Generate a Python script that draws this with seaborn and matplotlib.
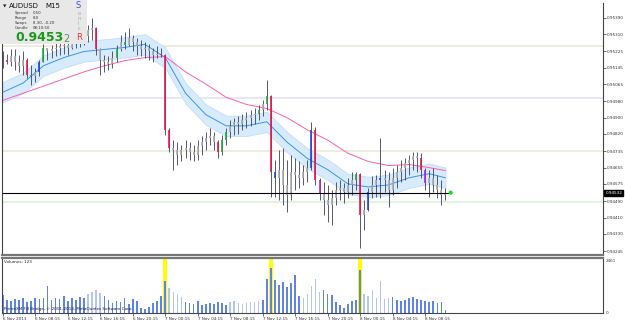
import numpy as np
import pandas as pd
import matplotlib
matplotlib.use("Agg")
import matplotlib.pyplot as plt
import seaborn as sns
from matplotlib.patches import Rectangle
import matplotlib.transforms as mtrans

sns.set_theme(style="white")
plt.rcParams['font.family'] = ['DejaVu Sans']

# AUDUSD M15 chart, one bar per half hour, prices in points (1e-5)
high = [95225, 95215, 95235, 95235, 95210, 95225, 95195, 95160, 95145, 95185,
        95260, 95240, 95255, 95270, 95280, 95290, 95280, 95300, 95320, 95310,
        95330, 95355, 95390, 95345, 95240, 95210, 95205, 95225, 95255, 95305,
        95320, 95340, 95305, 95290, 95280, 95270, 95260, 95240, 95250, 95240,
        95215, 94850, 94790, 94780, 94765, 94790, 94780, 94765, 94790, 94810,
        94830, 94850, 94830, 94790, 94815, 94850, 94890, 94900, 94910, 94920,
        94930, 94940, 94950, 94960, 94985, 95085, 95010, 94690, 94740, 94750,
        94690, 94715, 94700, 94685, 94670, 94690, 94880, 94855, 94605, 94585,
        94570, 94545, 94585, 94595, 94580, 94605, 94635, 94635, 94630, 94495,
        94555, 94615, 94620, 94800, 94645, 94635, 94655, 94670, 94690, 94700,
        94715, 94730, 94730, 94725, 94655, 94645, 94655, 94620, 94595, 94555]
low = [95145, 95165, 95155, 95135, 95125, 95110, 95095, 95060, 95075, 95105,
       95175, 95185, 95195, 95205, 95210, 95215, 95210, 95235, 95240, 95245,
       95255, 95270, 95280, 95210, 95110, 95125, 95135, 95145, 95175, 95225,
       95235, 95250, 95225, 95210, 95205, 95195, 95185, 95175, 95195, 95200,
       94815, 94730, 94645, 94670, 94685, 94700, 94690, 94685, 94690, 94715,
       94740, 94765, 94740, 94700, 94715, 94765, 94800, 94815, 94820, 94840,
       94850, 94860, 94870, 94890, 94910, 94940, 94510, 94510, 94495, 94470,
       94435, 94495, 94545, 94555, 94570, 94585, 94645, 94570, 94495, 94420,
       94390, 94375, 94470, 94495, 94480, 94505, 94520, 94545, 94260, 94350,
       94440, 94505, 94510, 94505, 94535, 94460, 94520, 94555, 94585, 94595,
       94620, 94645, 94635, 94605, 94545, 94510, 94535, 94505, 94470, 94495]
close = [95185, 95175, 95205, 95175, 95155, 95185, 95110, 95105, 95125, 95175,
         95240, 95225, 95235, 95240, 95250, 95255, 95240, 95270, 95290, 95265,
         95300, 95330, 95340, 95235, 95185, 95175, 95165, 95195, 95235, 95270,
         95255, 95290, 95270, 95250, 95235, 95240, 95225, 95210, 95215, 95210,
         94840, 94750, 94740, 94715, 94740, 94750, 94730, 94715, 94760, 94780,
         94800, 94810, 94780, 94730, 94790, 94830, 94860, 94880, 94870, 94890,
         94900, 94915, 94920, 94940, 94965, 95005, 94635, 94605, 94645, 94570,
         94520, 94635, 94620, 94605, 94635, 94655, 94840, 94595, 94530, 94495,
         94470, 94505, 94545, 94555, 94535, 94570, 94595, 94625, 94420, 94445,
         94535, 94570, 94595, 94605, 94595, 94545, 94605, 94635, 94655, 94680,
         94690, 94710, 94700, 94645, 94580, 94605, 94570, 94545, 94520, 94532]
volume = [850, 600, 550, 650, 620, 700, 500, 560, 680, 640,
          700, 1250, 600, 720, 650, 800, 560, 700, 620, 750,
          680, 900, 1000, 1050, 950, 800, 600, 450, 550, 500,
          700, 400, 650, 550, 250, 200, 280, 450, 550, 800,
          1500, 1150, 1000, 900, 750, 500, 450, 400, 550, 350,
          420, 480, 400, 520, 450, 380, 500, 560, 480, 420,
          460, 520, 500, 550, 600, 1600, 2100, 1550, 1300, 1450,
          1200, 1400, 1750, 800, 700, 900, 1250, 1600, 1000, 1050,
          900, 850, 500, 350, 250, 400, 550, 600, 2000, 900,
          800, 1050, 700, 1500, 650, 700, 750, 600, 550, 600,
          700, 750, 650, 600, 550, 500, 550, 450, 500, 150]

# moving averages read every 5 bars
ma_bar = [0, 5, 10, 15, 20, 25, 30, 35, 40, 45, 50, 55, 60, 65, 70, 75, 80,
          85, 90, 95, 100, 105, 109]
ma_fast = [95025, 95070, 95155, 95195, 95225, 95235, 95245, 95260, 95195, 95020,
           94915, 94860, 94860, 94880, 94780, 94700, 94645, 94575, 94560, 94570,
           94605, 94625, 94605]
ma_slow = [94985, 95020, 95055, 95090, 95125, 95155, 95180, 95195, 95200, 95125,
           95065, 95000, 94965, 94945, 94900, 94840, 94790, 94725, 94685, 94665,
           94670, 94655, 94640]
band_half = 50  # points

levels = [95252, 94997, 94737, 94486]
level_colors = ["#eeeadb", "#e4e4f8", "#efecdc", "#dcf5dc"]
price_ticks = [95390, 95310, 95225, 95145, 95065, 94980, 94900, 94820, 94735,
               94655, 94575, 94490, 94410, 94330, 94245]
bid = 94532
vol_max = 2461
signal_bars = [40, 66, 88]
signal_colors = {1: "r", 6: "r", 7: "g", 9: "b", 10: "g", 19: "g", 23: "r", 28: "g",
                 30: "g", 39: "p", 40: "r", 41: "r", 53: "r", 54: "g", 55: "g",
                 63: "g", 65: "g", 66: "r", 67: "b", 76: "b", 77: "r", 78: "p",
                 87: "g", 88: "r", 90: "b", 93: "b", 103: "r", 104: "p"}
light_vol = list(range(21, 25)) + list(range(41, 45)) + list(range(56, 64)) + \
    list(range(74, 79)) + list(range(89, 96))
time_labels = ["6 Nov 2013", "6 Nov 08:15", "6 Nov 12:15", "6 Nov 16:15", "6 Nov 20:15",
               "7 Nov 00:15", "7 Nov 04:15", "7 Nov 08:15", "7 Nov 12:15", "7 Nov 16:15",
               "7 Nov 20:15", "8 Nov 00:15", "8 Nov 04:15", "8 Nov 08:15"]

sc = 1e5
hi = np.array(high) / sc
lo = np.array(low) / sc
cl = np.array(close) / sc
op = np.r_[cl[0], cl[:-1]]
n = len(cl)
x = np.arange(n)
ma = pd.DataFrame({"bar": ma_bar, "fast": np.array(ma_fast) / sc,
                   "slow": np.array(ma_slow) / sc})

W, H = 625, 323
fig = plt.figure(figsize=(6.25, 3.23), dpi=100)
fig.patch.set_facecolor("white")


def box(l, t, r, b):
    return [l / W, 1 - b / H, (r - l) / W, (b - t) / H]


ax = fig.add_axes(box(2, 3, 603, 255))
axv = fig.add_axes(box(2, 258, 603, 313), sharex=ax)

xmax = 147.8
ax.set_xlim(-0.2, xmax)
ax.set_ylim(0.94226, 0.95463)

for lv, c in zip(levels, level_colors):
    ax.axhline(lv / sc, color=c, lw=1.3, zorder=0.5)

# Sonic R dragon band
ax.fill_between(ma["bar"], ma["fast"] - band_half / sc, ma["fast"] + band_half / sc,
                color="#d8ebfc", lw=0.6, edgecolor="#c0def9", zorder=1)
sns.lineplot(data=ma, x="bar", y="fast", ax=ax, color="#3a94ea", lw=0.7, zorder=2)
sns.lineplot(data=ma, x="bar", y="slow", ax=ax, color="#ff5fa8", lw=0.7, zorder=2)

palette = {"r": "#e8184c", "g": "#22a83a", "b": "#2448e0", "p": "#a428e6"}
body = [palette[signal_colors[i]] if i in signal_colors else "#acacac" for i in x]
ax.vlines(x, lo, hi, color="#3e3e5e", lw=0.6, zorder=3)
ax.vlines(x, op, cl, color=body, lw=1.2, zorder=4)

ax.hlines(bid / sc, -0.2, n + 0.3, color="black", lw=0.8, zorder=5)
sns.scatterplot(x=[n + 0.3], y=[cl[-1]], ax=ax, color="#18dd18", s=9,
                edgecolor="none", zorder=6)

ax.yaxis.tick_right()
ax.set_yticks(np.array(price_ticks) / sc)
ax.set_yticklabels([f"{p / sc:.5f}" for p in price_ticks])
ax.tick_params(axis="y", labelsize=3, length=2, pad=1, colors="#333333", width=0.5)
ax.tick_params(axis="x", length=0, labelbottom=False)
ax.set_xlabel("")
ax.set_ylabel("")
trans = mtrans.blended_transform_factory(ax.transAxes, ax.transData)
ax.text(1.004, bid / sc, f"{bid / sc:.5f}", transform=trans, fontsize=3, color="white",
        va="center", ha="left", zorder=7,
        bbox=dict(boxstyle="square,pad=0.25", fc="black", ec="black"))
for s in ["left", "right"]:
    ax.spines[s].set_color("#444444")
    ax.spines[s].set_linewidth(0.8)
ax.spines["top"].set_visible(False)
ax.spines["bottom"].set_color("#777777")
ax.spines["bottom"].set_linewidth(1.6)

# volume panel
for b in signal_bars:
    axv.axvspan(b - 0.45, b + 0.45, color="#ffff00", lw=0, zorder=0)
vcol = ["#b4c5f3" if i in light_vol else "#5f84e4" for i in x]
axv.bar(x, volume, width=0.4, color=vcol, edgecolor="none", lw=0, zorder=2)
axv.set_ylim(0, 2560)
axv.yaxis.tick_right()
axv.set_yticks([0, vol_max])
axv.set_yticklabels(["0", str(vol_max)])
axv.tick_params(axis="y", labelsize=3, length=0, pad=2, colors="#333333")
axv.set_xticks(np.arange(0, 8 * len(time_labels), 8))
axv.set_xticklabels(time_labels)
for lab in axv.get_xticklabels():
    lab.set_ha("left")
axv.tick_params(axis="x", labelsize=3, length=2, pad=1, width=0.5, colors="#333333",
                bottom=True)
for s in ["left", "right", "bottom"]:
    axv.spines[s].set_color("#444444")
    axv.spines[s].set_linewidth(0.8)
axv.spines["top"].set_color("#777777")
axv.spines["top"].set_linewidth(1.6)
axv.text(0.004, 0.93, "Volumes: 123", transform=axv.transAxes, fontsize=3,
         va="center", color="#222222")
axv.text(0.004, 0.07, "PrimeXM Fill Bridge, © 2001-2013, MetaQuotes Software Corp.",
         transform=axv.transAxes, fontsize=3, va="center", color="#222222", zorder=5)


# info panel
def ftext(px, py, s, **kw):
    fig.text(px / W, 1 - py / H, s, va="center", ha="left", zorder=6, **kw)


fig.add_artist(Rectangle((0, 1 - 44 / H), 87 / W, 44 / H, transform=fig.transFigure,
                         fc="#e8e8e8", ec="none", zorder=5))
ftext(2.5, 6, "▼", fontsize=3.2, color="#222222")
ftext(9, 6, "AUDUSD", fontsize=5, color="#111111")
ftext(45, 6, "M15", fontsize=5, color="#111111")
ftext(76, 6, "S", fontsize=6, color="#3355ee")
for k, ch in enumerate("onic"):
    ftext(77.5, 13.5 + 5 * k, ch, fontsize=3.5, color="#a0a0a0")
ftext(76, 37, "R", fontsize=6, color="#ee3344")
for k, (name, val) in enumerate([("Spread", "0.50"), ("Range", "8.0"),
                                 ("Swaps", "8.30, -0.20"), ("Candle", "08:10:50")]):
    ftext(15, 13 + 5 * k, name, fontsize=2.8, color="#333333")
    ftext(33, 13 + 5 * k, val, fontsize=2.8, color="#333333")
ftext(15, 37.5, "0.9453", fontsize=9, color="#1a9a1a", fontweight="bold")
ftext(63, 38.5, "2", fontsize=7, color="#668866")

fig.savefig("out.png", dpi=100, facecolor="white")
